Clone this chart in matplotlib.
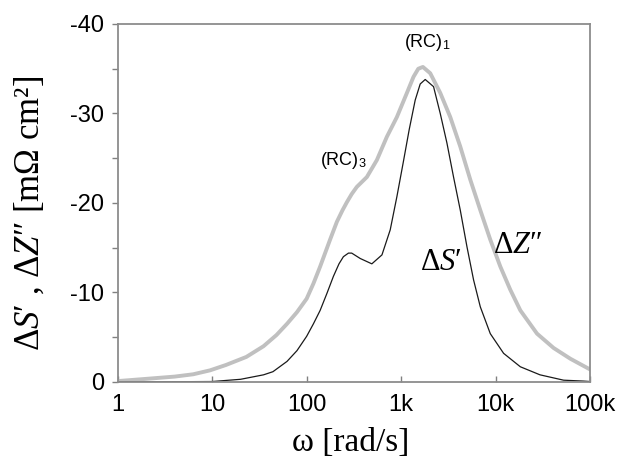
import matplotlib
matplotlib.use('Agg')
import matplotlib.pyplot as plt
from matplotlib.ticker import FixedLocator, NullLocator

# omega [rad/s] and values
w_z = [1, 1.9, 4, 6.3, 9.5, 14, 23, 35, 48, 62, 79, 100, 118, 139, 177, 209,
       240, 267, 300, 340, 434, 554, 707, 902, 1152, 1353, 1520, 1700, 2033,
       2596, 3314, 4230, 5400, 6890, 8790, 11220, 14320, 18280, 27460, 41130,
       61800, 100000]
dz = [-0.1, -0.33, -0.6, -0.86, -1.3, -1.9, -2.8, -4.0, -5.25, -6.5, -7.8, -9.3,
      -11.0, -12.9, -15.9, -17.9, -19.2, -20.1, -21.0, -21.8, -22.9, -24.8,
      -27.4, -29.6, -32.3, -34.1, -35.0, -35.2, -34.5, -32.3, -29.6, -26.3,
      -22.6, -19.2, -15.9, -12.9, -10.3, -8.0, -5.4, -3.8, -2.6, -1.4]

w_s = [1, 10, 20, 35, 44, 62, 79, 100, 118, 139, 164, 192, 220, 245, 277, 300,
       369, 490, 627, 767, 902, 1052, 1218, 1410, 1593, 1800, 2205, 2596, 3055,
       3590, 4230, 4980, 5850, 6890, 8790, 12160, 18280, 29500, 52500, 85000,
       100000]
ds = [0, -0.05, -0.3, -0.8, -1.15, -2.3, -3.5, -5.1, -6.5, -8.0, -9.9, -11.8,
      -13.2, -14.0, -14.4, -14.4, -13.8, -13.2, -14.2, -17.0, -20.7, -24.5,
      -28.2, -31.5, -33.3, -33.8, -33.0, -30.0, -26.7, -22.9, -19.2, -15.1,
      -11.4, -8.4, -5.4, -3.2, -1.7, -0.8, -0.2, -0.1, -0.05]

xticks = [1, 10, 100, 1000, 10000, 100000]
xtick_labels = ['1', '10', '100', '1k', '10k', '100k']
yticks = [0, -10, -20, -30, -40]
yminor = [-5, -15, -25, -35]

plt.rcParams['font.family'] = ['Liberation Sans', 'DejaVu Sans']
plt.rcParams['mathtext.fontset'] = 'custom'
plt.rcParams['mathtext.rm'] = 'Liberation Serif'
plt.rcParams['mathtext.it'] = 'Liberation Serif:italic'

fig = plt.figure(figsize=(6.24, 4.66), dpi=100)
ax = fig.add_axes([0.1886, 0.1803, 0.757, 0.7682])

ax.plot(w_z, dz, color='#c0c0c0', linewidth=2.8, solid_capstyle='round',
        solid_joinstyle='round')
ax.plot(w_s, ds, color='#1a1a1a', linewidth=0.9, solid_joinstyle='round')

ax.set_xscale('log')
ax.set_xlim(1, 100000)
ax.set_ylim(0, -40)

ax.xaxis.set_major_locator(FixedLocator(xticks))
ax.xaxis.set_minor_locator(NullLocator())
ax.set_xticklabels(xtick_labels)
ax.yaxis.set_major_locator(FixedLocator(yticks))
ax.yaxis.set_minor_locator(FixedLocator(yminor))
ax.set_yticklabels([str(t) for t in yticks])

ax.tick_params(axis='x', which='major', direction='in', length=4, width=1,
               color='#808080', labelsize=17, pad=9)
ax.tick_params(axis='y', which='both', direction='out', length=4, width=1,
               color='#808080', labelsize=17, pad=6)

for s in ax.spines.values():
    s.set_color('#8c8c8c')
    s.set_linewidth(1.3)

serif = ['Liberation Serif', 'DejaVu Serif']
ax.text(1890, -37.9, '(RC)$_\\mathregular{1}$', fontsize=13, ha='center', va='center')
ax.text(244, -24.8, '(RC)$_\\mathregular{3}$', fontsize=13, ha='center', va='center')
ax.text(2660, -13.3, 'Δ$\\it{S}$′', fontsize=22, ha='center', va='center', family=serif)
ax.text(17400, -15.3, 'Δ$\\it{Z}$″', fontsize=22, ha='center', va='center', family=serif)

fig.text(0.048, 1 - 213 / 466, 'Δ$\\it{S}$′ , Δ$\\it{Z}$″ [mΩ cm²]', rotation=90,
         fontsize=25, ha='center', va='center', family=serif)
fig.text(351 / 624, 1 - 443 / 466, 'ω [rad/s]', fontsize=24, ha='center',
         va='center', family=serif)

fig.savefig('out.png', dpi=100)
